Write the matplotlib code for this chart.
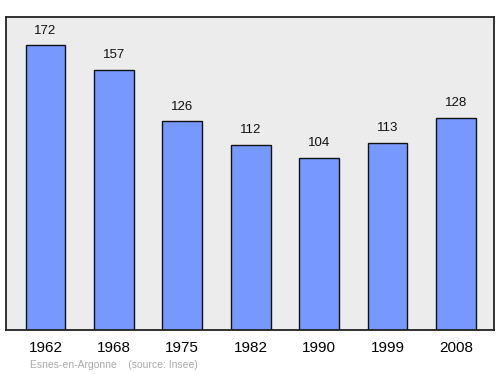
import matplotlib
matplotlib.use("Agg")
import matplotlib.pyplot as plt

years = ["1962", "1968", "1975", "1982", "1990", "1999", "2008"]
population = [172, 157, 126, 112, 104, 113, 128]

plt.rcParams['font.family'] = ['Liberation Sans', 'DejaVu Sans']

fig = plt.figure(figsize=(5.0, 3.74), dpi=100)
ax = fig.add_axes([0.011, 0.1176, 0.977, 0.837])
ax.set_facecolor('#ececec')
x = list(range(len(years)))
ax.bar(x, population, width=0.58, color='#7799ff', edgecolor='#111111', linewidth=1.0, zorder=2)
for xi, v in zip(x, population):
    ax.text(xi, v + 5.2, str(v), ha='center', va='bottom', fontsize=9.5, color='#111111')
ax.set_xlim(-0.585, 6.557)
ax.set_ylim(0, 189)
ax.set_yticks([])
ax.set_xticks(x)
ax.set_xticklabels(years, fontsize=11)
ax.tick_params(axis='x', length=0, pad=8)
for s in ax.spines.values():
    s.set_color('#222222')
    s.set_linewidth(1.3)
fig.text(0.06, 0.011, "Esnes-en-Argonne    (source: Insee)", fontsize=7.5, color='#aaaaaa', ha='left', va='bottom')
fig.savefig('out.png', dpi=100)
